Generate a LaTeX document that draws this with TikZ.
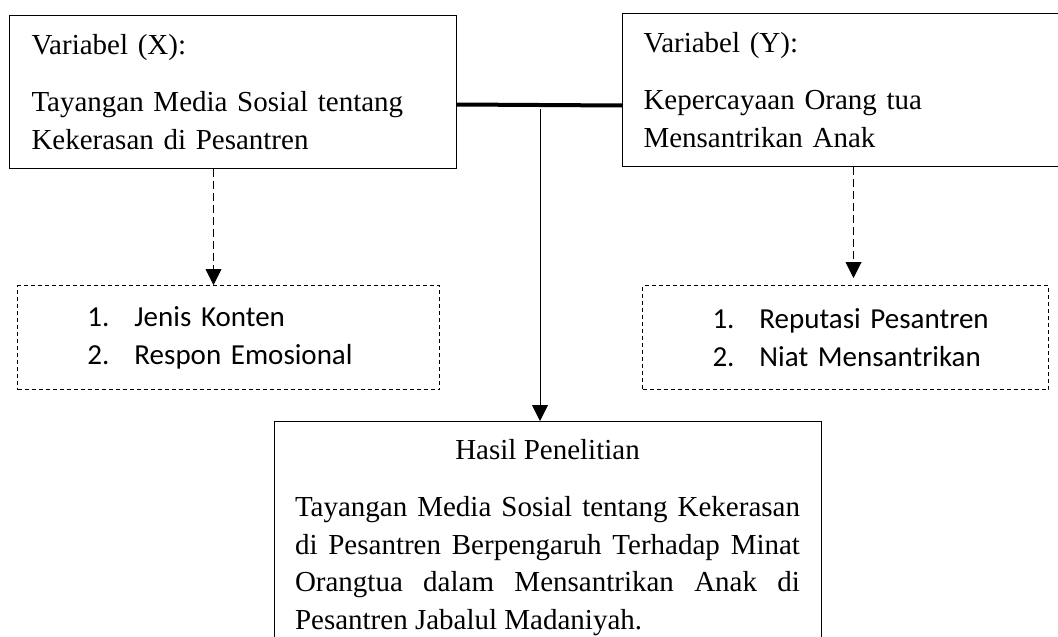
\documentclass[tikz,border=0pt]{standalone}
\usepackage{fontspec}
\setmainfont{Liberation Serif}
\newfontfamily\carlito{Carlito}
\usepackage{tikz}
\usetikzlibrary{arrows.meta}
\usetikzlibrary{positioning}
\usetikzlibrary{calc}
\newcommand{\numrow}[2]{\hspace*{70pt}\makebox[47pt][l]{#1}#2}
\tikzset{
    varbox/.style={draw=black, line width=1pt, anchor=north west, inner xsep=22pt, inner ysep=0pt,
        align=left, minimum height=153pt, font=\fontsize{29}{37.5}\selectfont},
    indbox/.style={draw=black, dash pattern=on 4pt off 3pt, line width=1pt, anchor=north west,
        inner sep=0pt, align=left, minimum height=104pt, font=\carlito\fontsize{29}{38}\selectfont},
    resbox/.style={draw=black, line width=1pt, anchor=north, inner xsep=21pt, inner ysep=18pt,
        align=justify, text width=505pt, font=\fontsize{29}{37.5}\selectfont},
    link/.style={draw=black, line width=4pt},
    arrow/.style={draw=black, line width=1pt, -{Triangle[width=16pt,length=16pt]}},
    dasharrow/.style={arrow, dash pattern=on 8pt off 4pt},
}

\begin{document}
\begin{tikzpicture}[x=1pt, y=-1pt]
    \useasboundingbox (0,0) rectangle (1058,637);
    % variables
    \node[varbox, text width=403pt] (boxX) at (9,15)
        {Variabel (X):\\[19.5pt]Tayangan Media Sosial tentang\\Kekerasan di Pesantren};
    \node[varbox, text width=400pt, inner xsep=21pt] (boxY) at (622,13)
        {Variabel (Y):\\[19.5pt]Kepercayaan Orang tua\\Mensantrikan Anak};
    %
    \node[indbox, text width=422pt] (listX) at (17,285)
        {\numrow{1.}{Jenis Konten}\\\numrow{2.}{Respon Emosional}};
    \node[indbox, text width=406pt] (listY) at (642,285)
        {\numrow{1.}{Reputasi Pesantren}\\\numrow{2.}{Niat Mensantrikan}};
    %
    \node[resbox] (hasil) at (547.5,421)
        {\makebox[505pt]{Hasil Penelitian}\\[19.5pt]Tayangan Media Sosial tentang Kekerasan\linebreak
         di Pesantren Berpengaruh Terhadap Minat\linebreak
         Orangtua dalam Mensantrikan Anak di\linebreak
         Pesantren Jabalul Madaniyah.};
    % connectors
    \draw[link] ([yshift=-12.5pt]boxX.east) -- ([yshift=-15.5pt]boxY.west);
    \coordinate (split) at (540,109);
    \draw[arrow] (split) -- (split |- hasil.north);
    %
    \draw[dasharrow] ([xshift=-19.5pt]boxX.south) -- ([xshift=-19.5pt]boxX.south |- listX.north);
    \draw[dasharrow, shorten >=7pt] ([xshift=10pt]boxY.south) -- ([xshift=10pt]boxY.south |- listY.north);
\end{tikzpicture}
\end{document}
